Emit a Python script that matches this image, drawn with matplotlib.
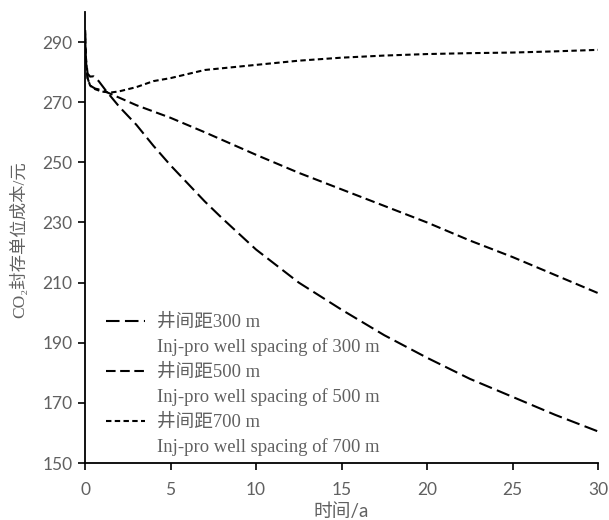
import matplotlib
matplotlib.use("Agg")
import matplotlib.pyplot as plt
from matplotlib.lines import Line2D

# ---- data ----------------------------------------------------------------
t300 = [0, 0.05, 0.15, 0.3, 0.5, 0.8, 1.2, 2, 3, 4, 5, 6, 7, 8, 10, 12.5, 15, 17.5, 20, 22.5, 25, 27.5, 30]
v300 = [294, 285, 279.5, 278.5, 278.6, 277, 274, 268.5, 262.5, 255.5, 249, 243, 237, 231.5, 221,
        210, 201, 192.5, 185, 178, 172, 166, 160.5]

t500 = [0, 0.05, 0.15, 0.3, 0.6, 1, 2, 3, 5, 7, 10, 12.5, 15, 17.5, 20, 22.5, 25, 27.5, 30]
v500 = [294, 284, 278, 275.5, 274.5, 274, 271.5, 269, 264.8, 260, 252.5, 246.5, 241, 235.5, 230,
        224, 218.5, 212.5, 206.5]

t700 = [0, 0.05, 0.15, 0.3, 0.6, 1, 1.5, 2, 3, 4, 5, 7, 10, 12.5, 15, 17.5, 20, 22.5, 25, 27.5, 30]
v700 = [294, 284, 278, 275.5, 274.3, 273.5, 273.2, 273.6, 275, 277, 278, 280.7, 282.4, 283.8, 284.8,
        285.5, 286, 286.3, 286.5, 286.9, 287.4]

labels_cn = ["井间距300 m", "井间距500 m", "井间距700 m"]
labels_en = ["Inj-pro well spacing of 300 m", "Inj-pro well spacing of 500 m",
             "Inj-pro well spacing of 700 m"]
xticks = [0, 5, 10, 15, 20, 25, 30]
yticks = [150, 170, 190, 210, 230, 250, 270, 290]

GREY = "#606060"
SERIF = ["Liberation Serif", "Noto Sans CJK SC"]
SANS = ["Lato", "Noto Sans CJK SC"]

# ---- figure ---------------------------------------------------------------
fig = plt.figure(figsize=(6.09, 5.2), dpi=100)
ax = fig.add_axes([0.1396, 0.1096, 0.8424, 0.8674])

lw = 1.5
styles = [(0, (6.5, 2.6)), (0, (4.6, 2.2)), (0, (2.6, 1.6))]
l1, = ax.plot(t300, v300, color="black", lw=lw, linestyle=styles[0])
l2, = ax.plot(t500, v500, color="black", lw=lw, linestyle=styles[1])
l3, = ax.plot(t700, v700, color="black", lw=lw, linestyle=styles[2])

ax.set_xlim(0, 30)
ax.set_ylim(150, 300)
ax.set_xticks(xticks)
ax.set_yticks(yticks)
for s in ["top", "right"]:
    ax.spines[s].set_visible(False)
for s in ["left", "bottom"]:
    ax.spines[s].set_linewidth(1.3)
ax.tick_params(direction="out", length=5, width=1.2, colors="black", labelcolor=GREY,
               labelsize=12.5)
ax.tick_params(axis="x", pad=9)
ax.tick_params(axis="y", pad=4)
for lab in ax.get_xticklabels() + ax.get_yticklabels():
    lab.set_family(SANS)

ax.set_xlabel("时间/a", family=SANS, color=GREY, fontsize=13.5, labelpad=3)
ax.set_ylabel("CO₂封存单位成本/元", family=SERIF, color=GREY, fontsize=12.5)
ax.yaxis.set_label_coords(-0.11, 0.495)

blank = Line2D([], [], linestyle="none")
handles = [l1, blank, l2, blank, l3, blank]
labels = [labels_cn[0], labels_en[0], labels_cn[1], labels_en[1], labels_cn[2], labels_en[2]]
leg = ax.legend(handles, labels, loc="lower left", bbox_to_anchor=(0.027, -0.002),
                frameon=False, prop={"family": SERIF, "size": 13.4},
                handlelength=2.1, handletextpad=0.6, labelspacing=0.4, borderaxespad=0.0)
for txt in leg.get_texts():
    txt.set_color(GREY)

fig.savefig("out.png", dpi=100)
